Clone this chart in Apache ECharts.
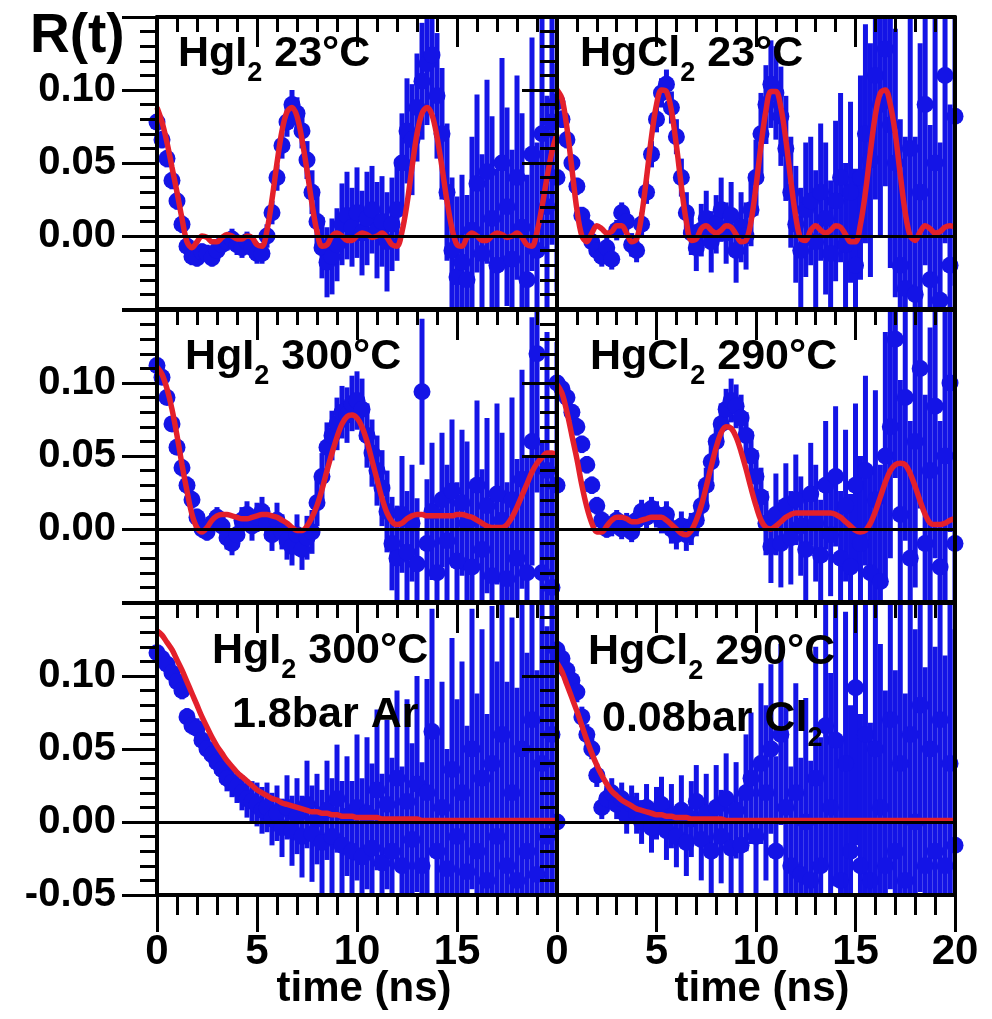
<!DOCTYPE html>
<html>
<head>
<meta charset="utf-8">
<script src="https://cdn.jsdelivr.net/npm/echarts@6/dist/echarts.min.js"></script>
<style>
  html, body { margin: 0; padding: 0; background: #fff; }
  #chart { width: 992px; height: 1019px; }
</style>
</head>
<body>
<div id="chart"></div>
<script>
// sample times (ns), shared by all six panels
const times = [
  0, 0.25, 0.5, 0.75, 1, 1.25, 1.5, 1.75, 2, 2.25,
  2.5, 2.75, 3, 3.25, 3.5, 3.75, 4, 4.25, 4.5, 4.75,
  5, 5.25, 5.5, 5.75, 6, 6.25, 6.5, 6.75, 7, 7.25,
  7.5, 7.75, 8, 8.25, 8.5, 8.75, 9, 9.25, 9.5, 9.75,
  10, 10.25, 10.5, 10.75, 11, 11.25, 11.5, 11.75, 12, 12.25,
  12.5, 12.75, 13, 13.25, 13.5, 13.75, 14, 14.25, 14.5, 14.75,
  15, 15.25, 15.5, 15.75, 16, 16.25, 16.5, 16.75, 17, 17.25,
  17.5, 17.75, 18, 18.25, 18.5, 18.75, 19, 19.25, 19.5, 19.75,
  20
];

// HgI2 23°C
const fitHgI2Room = [
  0.088, 0.078, 0.064, 0.047, 0.030, 0.012, -0.004, -0.008, -0.004, 0.000,
  -0.001, -0.004, -0.004, -0.001, 0.001, 0.000, -0.002, -0.002, 0.000, -0.001,
  -0.006, -0.007, 0.004, 0.025, 0.050, 0.072, 0.085, 0.088, 0.082, 0.066,
  0.045, 0.022, 0.003, -0.007, -0.006, 0.000, 0.002, 0.000, -0.003, -0.003,
  0.000, 0.002, 0.001, -0.001, 0.000, 0.002, -0.001, -0.006, -0.007, 0.003,
  0.022, 0.047, 0.070, 0.084, 0.088, 0.083, 0.068, 0.047, 0.024, 0.005,
  -0.006, -0.007, -0.001, 0.002, 0.000, -0.003, -0.003, 0.000, 0.002, 0.001,
  -0.001, 0.000, 0.002, -0.001, -0.006, -0.007, 0.003, 0.020, 0.040, 0.058,
  0.070
];
const dataHgI2Room = [
  0.078, 0.066, 0.053, 0.038, 0.024, 0.008, -0.007, -0.014, -0.015, -0.011,
  -0.012, -0.015, -0.010, -0.006, -0.004, -0.002, -0.006, -0.008, -0.004, -0.008,
  -0.012, -0.012, 0.000, 0.016, 0.040, 0.062, 0.078, 0.090, 0.084, 0.072,
  0.052, 0.030, 0.010, -0.008, -0.018, -0.014, -0.006, 0.008, 0.014, 0.006,
  0.016, 0.002, 0.012, 0.018, 0.004, 0.010, -0.004, 0.008, 0.018, 0.050,
  0.072, 0.066, 0.088, 0.106, 0.118, 0.124, 0.096, 0.070, 0.030, -0.010,
  -0.028, -0.018, -0.030, 0.004, 0.036, -0.012, 0.044, 0.012, -0.020, 0.050,
  0.020, -0.016, 0.040, 0.006, -0.030, 0.056, -0.010, 0.070, 0.020, 0.078,
  0.040
];
const errHgI2Room = [
  0.006, 0.006, 0.006, 0.006, 0.006, 0.006, 0.006, 0.006, 0.006, 0.006,
  0.006, 0.006, 0.006, 0.006, 0.006, 0.007, 0.007, 0.007, 0.007, 0.007,
  0.007, 0.007, 0.008, 0.008, 0.009, 0.009, 0.010, 0.010, 0.011, 0.012,
  0.013, 0.015, 0.018, 0.021, 0.024, 0.026, 0.025, 0.028, 0.030, 0.027,
  0.031, 0.029, 0.032, 0.030, 0.033, 0.031, 0.034, 0.032, 0.035, 0.034,
  0.036, 0.038, 0.037, 0.040, 0.042, 0.040, 0.043, 0.045, 0.047, 0.050,
  0.055, 0.060, 0.058, 0.064, 0.061, 0.068, 0.063, 0.070, 0.066, 0.072,
  0.068, 0.075, 0.070, 0.078, 0.072, 0.080, 0.074, 0.082, 0.076, 0.084,
  0.078
];

// HgCl2 23°C
const fitHgCl2Room = [
  0.100, 0.094, 0.074, 0.046, 0.018, 0.000, -0.004, 0.002, 0.007, 0.005,
  0.002, 0.003, 0.007, 0.007, 0.002, -0.004, -0.002, 0.014, 0.040, 0.068,
  0.090, 0.100, 0.099, 0.086, 0.062, 0.034, 0.010, -0.003, -0.002, 0.005,
  0.007, 0.004, 0.002, 0.004, 0.007, 0.006, 0.001, -0.004, -0.003, 0.010,
  0.034, 0.062, 0.086, 0.099, 0.099, 0.088, 0.066, 0.038, 0.013, -0.002,
  -0.003, 0.004, 0.007, 0.004, 0.002, 0.004, 0.007, 0.006, 0.001, -0.004,
  -0.004, 0.008, 0.030, 0.058, 0.083, 0.098, 0.100, 0.090, 0.070, 0.042,
  0.016, 0.000, -0.003, 0.003, 0.007, 0.005, 0.002, 0.003, 0.006, 0.007,
  0.006
];
const dataHgCl2Room = [
  0.092, 0.080, 0.066, 0.050, 0.034, 0.014, 0.006, -0.004, -0.010, -0.014,
  -0.008, -0.016, 0.004, 0.016, 0.010, -0.006, -0.010, 0.008, 0.030, 0.056,
  0.080, 0.098, 0.104, 0.088, 0.068, 0.040, 0.016, 0.002, -0.008, 0.004,
  0.012, -0.004, 0.008, 0.018, 0.002, 0.014, -0.010, 0.006, 0.000, 0.018,
  0.040, 0.070, 0.090, 0.104, 0.098, 0.082, 0.060, 0.030, 0.008, -0.010,
  0.018, 0.024, -0.004, 0.030, 0.012, -0.012, 0.024, 0.040, -0.006, 0.030,
  -0.020, 0.040, 0.070, 0.052, 0.110, 0.090, 0.128, 0.076, 0.050, -0.020,
  -0.036, 0.060, -0.040, 0.030, 0.090, -0.030, 0.050, -0.044, 0.110, -0.020,
  0.082
];
const errHgCl2Room = [
  0.006, 0.006, 0.006, 0.006, 0.006, 0.006, 0.006, 0.006, 0.007, 0.007,
  0.007, 0.007, 0.007, 0.007, 0.008, 0.008, 0.008, 0.008, 0.008, 0.009,
  0.009, 0.010, 0.010, 0.011, 0.012, 0.013, 0.014, 0.015, 0.016, 0.018,
  0.019, 0.021, 0.020, 0.022, 0.021, 0.023, 0.022, 0.024, 0.023, 0.025,
  0.026, 0.028, 0.027, 0.030, 0.032, 0.034, 0.036, 0.038, 0.040, 0.043,
  0.046, 0.044, 0.049, 0.047, 0.052, 0.050, 0.055, 0.058, 0.056, 0.062,
  0.066, 0.070, 0.075, 0.080, 0.085, 0.090, 0.094, 0.098, 0.092, 0.100,
  0.104, 0.098, 0.108, 0.102, 0.110, 0.106, 0.112, 0.108, 0.115, 0.110,
  0.116
];

// HgI2 300°C
const fitHgI2Hot = [
  0.111, 0.106, 0.096, 0.082, 0.064, 0.044, 0.026, 0.010, 0.001, -0.002,
  0.001, 0.006, 0.009, 0.010, 0.010, 0.009, 0.008, 0.007, 0.007, 0.008,
  0.009, 0.010, 0.010, 0.009, 0.008, 0.006, 0.004, 0.001, -0.001, -0.001,
  0.002, 0.008, 0.016, 0.027, 0.040, 0.052, 0.063, 0.072, 0.077, 0.078,
  0.076, 0.070, 0.060, 0.047, 0.034, 0.021, 0.011, 0.005, 0.003, 0.004,
  0.007, 0.009, 0.010, 0.010, 0.009, 0.009, 0.009, 0.009, 0.009, 0.009,
  0.010, 0.010, 0.009, 0.008, 0.006, 0.004, 0.002, 0.001, 0.001, 0.001,
  0.003, 0.008, 0.015, 0.023, 0.031, 0.039, 0.045, 0.049, 0.052, 0.052,
  0.050
];
const dataHgI2Hot = [
  0.112, 0.104, 0.090, 0.072, 0.056, 0.042, 0.030, 0.020, 0.008, 0.000,
  -0.002, 0.004, 0.008, 0.002, -0.006, -0.010, -0.004, 0.006, 0.010, 0.002,
  0.008, 0.012, 0.004, -0.004, 0.006, -0.002, -0.008, -0.012, -0.004, -0.014,
  -0.006, -0.002, 0.018, 0.036, 0.056, 0.064, 0.072, 0.080, 0.078, 0.086,
  0.088, 0.082, 0.064, 0.052, 0.040, 0.028, 0.012, -0.010, -0.020, 0.010,
  -0.016, 0.004, -0.024, 0.094, -0.010, 0.012, -0.030, 0.020, -0.008, 0.026,
  -0.022, 0.018, 0.004, -0.026, 0.030, -0.014, 0.016, -0.032, 0.024, 0.006,
  -0.034, 0.020, -0.020, 0.034, -0.030, 0.060, 0.120, -0.030, 0.040, -0.040,
  0.030
];
const errHgI2Hot = [
  0.005, 0.005, 0.005, 0.005, 0.005, 0.006, 0.006, 0.006, 0.006, 0.006,
  0.006, 0.007, 0.007, 0.007, 0.008, 0.008, 0.008, 0.009, 0.009, 0.010,
  0.010, 0.010, 0.011, 0.011, 0.012, 0.012, 0.013, 0.013, 0.014, 0.014,
  0.015, 0.015, 0.016, 0.016, 0.017, 0.017, 0.018, 0.018, 0.019, 0.019,
  0.020, 0.021, 0.022, 0.023, 0.024, 0.026, 0.028, 0.032, 0.036, 0.040,
  0.042, 0.040, 0.045, 0.050, 0.044, 0.047, 0.050, 0.046, 0.052, 0.049,
  0.054, 0.050, 0.056, 0.053, 0.058, 0.055, 0.060, 0.057, 0.062, 0.060,
  0.066, 0.070, 0.068, 0.075, 0.080, 0.085, 0.095, 0.090, 0.095, 0.092,
  0.098
];

// HgCl2 290°C
const fitHgCl2Hot = [
  0.099, 0.093, 0.080, 0.064, 0.048, 0.030, 0.015, 0.004, -0.002, -0.002,
  0.002, 0.006, 0.008, 0.008, 0.007, 0.005, 0.005, 0.006, 0.007, 0.008,
  0.008, 0.008, 0.006, 0.003, 0.000, -0.003, -0.004, -0.001, 0.006, 0.016,
  0.029, 0.043, 0.056, 0.066, 0.070, 0.069, 0.063, 0.053, 0.041, 0.028,
  0.016, 0.006, 0.001, 0.000, 0.002, 0.005, 0.008, 0.010, 0.011, 0.011,
  0.011, 0.011, 0.011, 0.011, 0.011, 0.011, 0.010, 0.008, 0.005, 0.002,
  -0.001, -0.002, -0.001, 0.004, 0.012, 0.022, 0.032, 0.040, 0.044, 0.045,
  0.044, 0.038, 0.029, 0.019, 0.010, 0.004, 0.003, 0.003, 0.004, 0.006,
  0.007
];
const dataHgCl2Hot = [
  0.100, 0.096, 0.090, 0.080, 0.070, 0.058, 0.044, 0.030, 0.016, 0.006,
  0.000, 0.002, 0.006, 0.000, 0.004, -0.002, 0.006, 0.012, 0.008, 0.014,
  0.010, 0.006, 0.010, 0.000, -0.004, 0.002, -0.004, 0.000, 0.006, 0.016,
  0.030, 0.046, 0.060, 0.072, 0.082, 0.088, 0.084, 0.076, 0.064, 0.050,
  0.036, 0.022, 0.004, -0.012, 0.010, -0.010, 0.016, -0.006, 0.020, 0.002,
  -0.014, 0.024, 0.004, -0.018, 0.030, -0.004, 0.036, -0.020, 0.016, -0.026,
  0.030, -0.010, 0.040, -0.030, 0.020, -0.036, 0.050, 0.070, 0.130, 0.010,
  0.090, -0.020, 0.060, 0.110, -0.010, 0.040, 0.084, -0.026, 0.050, 0.100,
  -0.010
];
const errHgCl2Hot = [
  0.005, 0.005, 0.005, 0.005, 0.006, 0.006, 0.006, 0.006, 0.006, 0.006,
  0.006, 0.007, 0.007, 0.007, 0.007, 0.007, 0.008, 0.008, 0.008, 0.008,
  0.009, 0.009, 0.009, 0.010, 0.010, 0.010, 0.011, 0.011, 0.011, 0.012,
  0.012, 0.013, 0.013, 0.014, 0.014, 0.015, 0.015, 0.016, 0.016, 0.017,
  0.018, 0.020, 0.022, 0.025, 0.028, 0.030, 0.029, 0.032, 0.031, 0.034,
  0.036, 0.035, 0.040, 0.038, 0.044, 0.042, 0.048, 0.046, 0.052, 0.050,
  0.056, 0.060, 0.065, 0.070, 0.075, 0.080, 0.085, 0.090, 0.095, 0.092,
  0.098, 0.094, 0.100, 0.096, 0.102, 0.098, 0.104, 0.100, 0.106, 0.102,
  0.108
];

// HgI2 300°C + 1.8 bar Ar
const fitHgI2Ar = [
  0.131, 0.128, 0.123, 0.118, 0.111, 0.104, 0.096, 0.088, 0.080, 0.072,
  0.065, 0.058, 0.052, 0.047, 0.042, 0.038, 0.034, 0.031, 0.028, 0.025,
  0.022, 0.020, 0.018, 0.016, 0.015, 0.013, 0.012, 0.011, 0.010, 0.009,
  0.008, 0.007, 0.007, 0.006, 0.006, 0.005, 0.005, 0.004, 0.004, 0.004,
  0.003, 0.003, 0.003, 0.003, 0.003, 0.002, 0.002, 0.002, 0.002, 0.002,
  0.002, 0.002, 0.002, 0.001, 0.001, 0.001, 0.001, 0.001, 0.001, 0.001,
  0.001, 0.001, 0.001, 0.001, 0.001, 0.001, 0.001, 0.001, 0.001, 0.001,
  0.001, 0.001, 0.001, 0.001, 0.001, 0.001, 0.001, 0.001, 0.001, 0.001,
  0.001
];
const dataHgI2Ar = [
  0.116, 0.112, 0.108, 0.102, 0.096, 0.090, 0.072, 0.066, 0.064, 0.056,
  0.050, 0.046, 0.041, 0.036, 0.030, 0.027, 0.024, 0.020, 0.016, 0.014,
  0.012, 0.008, 0.010, 0.002, 0.006, -0.004, 0.010, -0.006, 0.004, -0.010,
  0.012, -0.008, 0.002, -0.014, 0.008, -0.010, 0.016, -0.016, 0.004, -0.020,
  0.010, -0.024, 0.006, -0.018, 0.022, -0.028, 0.012, -0.020, 0.030, -0.030,
  0.014, -0.012, 0.026, -0.030, 0.020, 0.062, -0.020, 0.010, -0.032, 0.036,
  -0.010, 0.020, -0.034, 0.050, -0.020, 0.030, -0.040, 0.040, -0.010, 0.060,
  -0.030, 0.020, -0.040, 0.050, -0.020, 0.070, -0.036, 0.040, -0.010, 0.060,
  0.000
];
const errHgI2Ar = [
  0.005, 0.005, 0.005, 0.005, 0.006, 0.006, 0.006, 0.006, 0.007, 0.007,
  0.007, 0.008, 0.008, 0.009, 0.009, 0.010, 0.011, 0.012, 0.013, 0.014,
  0.015, 0.016, 0.017, 0.018, 0.019, 0.020, 0.022, 0.024, 0.026, 0.028,
  0.030, 0.033, 0.031, 0.036, 0.034, 0.040, 0.037, 0.044, 0.041, 0.048,
  0.050, 0.054, 0.052, 0.058, 0.055, 0.061, 0.058, 0.064, 0.060, 0.068,
  0.070, 0.066, 0.074, 0.071, 0.078, 0.084, 0.080, 0.086, 0.082, 0.090,
  0.094, 0.090, 0.100, 0.096, 0.108, 0.102, 0.114, 0.108, 0.120, 0.114,
  0.126, 0.120, 0.132, 0.126, 0.136, 0.130, 0.140, 0.134, 0.144, 0.138,
  0.148
];

// HgCl2 290°C + 0.08 bar Cl2
const fitHgCl2Cl = [
  0.109, 0.103, 0.094, 0.085, 0.076, 0.066, 0.056, 0.047, 0.039, 0.032,
  0.026, 0.021, 0.018, 0.015, 0.013, 0.011, 0.009, 0.008, 0.007, 0.006,
  0.005, 0.005, 0.004, 0.004, 0.003, 0.003, 0.003, 0.002, 0.002, 0.002,
  0.002, 0.002, 0.002, 0.002, 0.001, 0.001, 0.001, 0.001, 0.001, 0.001,
  0.001, 0.001, 0.001, 0.001, 0.001, 0.001, 0.001, 0.001, 0.001, 0.001,
  0.001, 0.001, 0.001, 0.001, 0.001, 0.001, 0.001, 0.001, 0.001, 0.001,
  0.001, 0.001, 0.001, 0.001, 0.001, 0.001, 0.001, 0.001, 0.001, 0.001,
  0.001, 0.001, 0.001, 0.001, 0.001, 0.001, 0.001, 0.001, 0.001, 0.001,
  0.001
];
const dataHgCl2Cl = [
  0.118, 0.112, 0.104, 0.097, 0.089, 0.072, 0.060, 0.050, 0.032, 0.010,
  0.016, 0.020, 0.012, 0.016, 0.004, 0.012, 0.006, 0.000, 0.010, -0.004,
  0.006, 0.012, -0.006, 0.004, -0.010, 0.008, -0.014, 0.002, 0.014, -0.012,
  0.006, -0.020, 0.010, -0.010, 0.016, -0.018, 0.008, -0.016, 0.020, 0.030,
  -0.010, 0.040, 0.020, 0.050, -0.020, 0.060, 0.010, -0.030, 0.020, -0.036,
  0.000, -0.040, 0.030, -0.030, 0.066, 0.010, 0.056, -0.040, 0.040, -0.020,
  0.092, -0.030, 0.060, -0.040, 0.050, 0.010, -0.030, 0.070, -0.020, 0.040,
  -0.040, 0.060, 0.000, 0.080, -0.030, 0.050, -0.020, 0.070, -0.030, 0.040,
  -0.016
];
const errHgCl2Cl = [
  0.006, 0.006, 0.006, 0.006, 0.007, 0.007, 0.007, 0.007, 0.008, 0.008,
  0.009, 0.010, 0.010, 0.011, 0.012, 0.013, 0.014, 0.015, 0.016, 0.017,
  0.018, 0.019, 0.020, 0.022, 0.021, 0.024, 0.023, 0.026, 0.025, 0.028,
  0.027, 0.030, 0.029, 0.032, 0.031, 0.034, 0.033, 0.036, 0.040, 0.045,
  0.050, 0.055, 0.060, 0.058, 0.065, 0.062, 0.070, 0.068, 0.075, 0.080,
  0.085, 0.082, 0.090, 0.088, 0.095, 0.092, 0.100, 0.096, 0.104, 0.100,
  0.108, 0.104, 0.112, 0.108, 0.116, 0.112, 0.120, 0.116, 0.124, 0.120,
  0.128, 0.124, 0.132, 0.128, 0.136, 0.132, 0.140, 0.136, 0.144, 0.140,
  0.148
];

// panel labels (rich text markup: m = normal, s = subscript)
const panelLabels = [
  [{ text: '{m|HgI}{s|2}{m| 23°C}', x: 178, y: 54 }],
  [{ text: '{m|HgCl}{s|2}{m| 23°C}', x: 580, y: 54 }],
  [{ text: '{m|HgI}{s|2}{m| 300°C}', x: 185, y: 357 }],
  [{ text: '{m|HgCl}{s|2}{m| 290°C}', x: 590, y: 357 }],
  [{ text: '{m|HgI}{s|2}{m| 300°C}', x: 212, y: 651 }, { text: '{m|1.8bar Ar}', x: 232, y: 715 }],
  [{ text: '{m|HgCl}{s|2}{m| 290°C}', x: 588, y: 652 }, { text: '{m|0.08bar Cl}{s|2}', x: 602, y: 719 }]
];

const panels = [
  { fit: fitHgI2Room, data: dataHgI2Room, err: errHgI2Room },
  { fit: fitHgCl2Room, data: dataHgCl2Room, err: errHgCl2Room },
  { fit: fitHgI2Hot, data: dataHgI2Hot, err: errHgI2Hot },
  { fit: fitHgCl2Hot, data: dataHgCl2Hot, err: errHgCl2Hot },
  { fit: fitHgI2Ar, data: dataHgI2Ar, err: errHgI2Ar },
  { fit: fitHgCl2Cl, data: dataHgCl2Cl, err: errHgCl2Cl }
];

const FONT = '"Liberation Sans", Arial, sans-serif';
const BLUE = '#1414e6';
const RED = '#e3202b';
const colLeft = [157, 557];
const colWidth = [400, 398];
const rowTop = [17, 310, 603];
const rowHeight = 292;

const chart = echarts.init(document.getElementById('chart'));

const frameLine = { color: '#000', width: 4 };
const tickLine = { color: '#000', width: 3 };

function errorBar(params, api) {
  const t = api.value(0);
  const v = api.value(1);
  const e = api.value(2);
  const hi = api.coord([t, v + e]);
  const lo = api.coord([t, v - e]);
  return {
    type: 'line',
    shape: { x1: hi[0], y1: hi[1], x2: lo[0], y2: lo[1] },
    style: { stroke: BLUE, lineWidth: 5 }
  };
}

const grids = [];
const xAxes = [];
const yAxes = [];
const series = [];

panels.forEach((p, i) => {
  const r = Math.floor(i / 2);
  const c = i % 2;
  grids.push({
    left: colLeft[c], top: rowTop[r], width: colWidth[c], height: rowHeight,
    outerBoundsMode: 'none', show: false
  });

  // bottom x axis
  xAxes.push({
    gridIndex: i, type: 'value', position: 'bottom', min: 0, max: 20, interval: 5, z: 5,
    axisLine: { show: true, onZero: false, lineStyle: frameLine },
    axisTick: { show: r === 2, inside: false, length: 37, lineStyle: tickLine },
    minorTick: { show: r === 2, splitNumber: 5, length: 20, lineStyle: tickLine },
    axisLabel: {
      show: r === 2, margin: 36, fontSize: 42, fontWeight: 'bold', fontFamily: FONT, color: '#000',
      showMinLabel: true, showMaxLabel: true,
      formatter: v => (c === 0 && v === 20) ? '' : String(v)
    },
    splitLine: { show: false }
  });
  // top x axis (mirror ticks pointing in)
  xAxes.push({
    gridIndex: i, type: 'value', position: 'top', min: 0, max: 20, interval: 5, z: 5,
    axisLine: { show: true, onZero: false, lineStyle: frameLine },
    axisTick: { show: true, inside: true, length: 30, lineStyle: tickLine },
    minorTick: { show: true, splitNumber: 5, length: 15, lineStyle: tickLine },
    axisLabel: { show: false },
    splitLine: { show: false }
  });
  // left y axis
  yAxes.push({
    gridIndex: i, type: 'value', position: 'left', min: -0.05, max: 0.15, interval: 0.05, z: 5,
    axisLine: { show: true, onZero: false, lineStyle: frameLine },
    axisTick: { show: true, inside: false, length: 35, lineStyle: tickLine },
    minorTick: { show: true, splitNumber: 5, length: 17, lineStyle: tickLine },
    axisLabel: {
      show: c === 0, margin: 41, fontSize: 40, fontWeight: 'bold', fontFamily: FONT, color: '#000',
      showMinLabel: true, showMaxLabel: true,
      formatter: v => {
        if (v > 0.14) return '';
        if (v < -0.04 && r < 2) return '';
        return v.toFixed(2);
      }
    },
    splitLine: { show: false }
  });
  // right y axis: frame only
  yAxes.push({
    gridIndex: i, type: 'value', position: 'right', min: -0.05, max: 0.15, interval: 0.05, z: 5,
    axisLine: { show: true, onZero: false, lineStyle: frameLine },
    axisTick: { show: false },
    axisLabel: { show: false },
    splitLine: { show: false }
  });

  const xi = 2 * i;
  const yi = 2 * i;

  // zero reference line
  series.push({
    type: 'line', xAxisIndex: xi, yAxisIndex: yi, data: [], z: 1, silent: true,
    markLine: {
      silent: true, symbol: ['none', 'none'], label: { show: false }, animation: false,
      lineStyle: { color: '#000', width: 3, type: 'solid' },
      data: [{ yAxis: 0 }]
    }
  });
  // error bars
  series.push({
    type: 'custom', xAxisIndex: xi, yAxisIndex: yi, z: 2, clip: true, silent: true,
    data: times.map((t, k) => [t, p.data[k], p.err[k]]),
    encode: { x: 0, y: 1 },
    renderItem: errorBar
  });
  // data points
  series.push({
    type: 'scatter', xAxisIndex: xi, yAxisIndex: yi, z: 3, clip: true, silent: true,
    symbol: 'circle', symbolSize: 17,
    itemStyle: { color: BLUE, opacity: 1 },
    data: times.map((t, k) => [t, p.data[k]])
  });
  // fit
  series.push({
    type: 'line', xAxisIndex: xi, yAxisIndex: yi, z: 4, clip: true, silent: true,
    showSymbol: false, smooth: 0.35,
    lineStyle: { color: RED, width: 5.5 },
    data: times.map((t, k) => [t, p.fit[k]])
  });
});

const richStyle = {
  m: { fontSize: 43, fontWeight: 'bold', fontFamily: FONT, lineHeight: 66, fill: '#000', color: '#000' },
  s: { fontSize: 27, fontWeight: 'bold', fontFamily: FONT, lineHeight: 27, verticalAlign: 'bottom', fill: '#000', color: '#000' }
};

const graphics = [
  {
    type: 'text', x: 30, y: 37, z: 20,
    style: { text: 'R(t)', font: 'bold 55px ' + FONT, fill: '#000', align: 'left', verticalAlign: 'middle' }
  },
  {
    type: 'text', x: 364, y: 989, z: 20,
    style: { text: 'time (ns)', font: 'bold 42px ' + FONT, fill: '#000', align: 'center', verticalAlign: 'middle' }
  },
  {
    type: 'text', x: 762, y: 989, z: 20,
    style: { text: 'time (ns)', font: 'bold 42px ' + FONT, fill: '#000', align: 'center', verticalAlign: 'middle' }
  }
];
panelLabels.forEach(list => list.forEach(lb => {
  graphics.push({
    type: 'text', x: lb.x, y: lb.y, z: 20,
    style: { text: lb.text, rich: richStyle, fill: '#000', align: 'left', verticalAlign: 'middle' }
  });
}));

chart.setOption({
  animation: false,
  backgroundColor: '#fff',
  grid: grids,
  xAxis: xAxes,
  yAxis: yAxes,
  series: series,
  graphic: graphics
});
</script>
</body>
</html>
